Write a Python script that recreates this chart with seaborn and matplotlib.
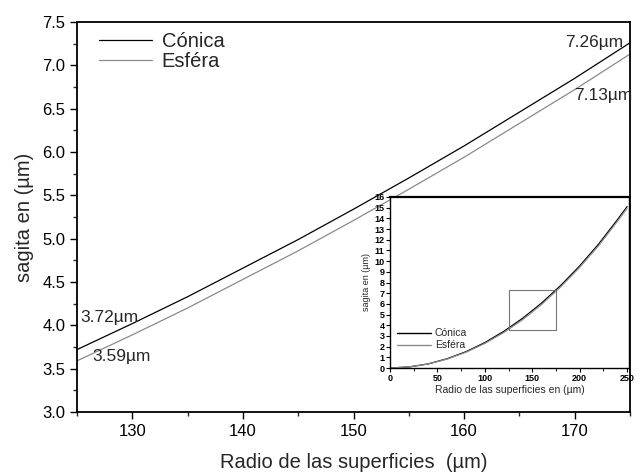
import matplotlib
matplotlib.use("Agg")
import matplotlib.pyplot as plt
from matplotlib.ticker import MultipleLocator
import seaborn as sns
import pandas as pd

# ---- data ----
radio = [125, 130, 135, 140, 145, 150, 155, 160, 165, 170, 175]
conica = [3.72, 4.02, 4.33, 4.66, 4.99, 5.34, 5.70, 6.07, 6.46, 6.85, 7.26]
esfera = [3.59, 3.89, 4.20, 4.53, 4.86, 5.21, 5.57, 5.94, 6.33, 6.72, 7.13]

radio_full = [0, 20, 40, 60, 80, 100, 120, 140, 160, 180, 200, 220, 240, 250]
conica_full = [0.0, 0.10, 0.38, 0.86, 1.52, 2.38, 3.43, 4.66, 6.09, 7.72, 9.55, 11.60, 13.90, 15.10]
esfera_full = [0.0, 0.10, 0.37, 0.83, 1.47, 2.30, 3.32, 4.53, 5.96, 7.59, 9.42, 11.45, 13.75, 14.95]

series_names = ["Cónica", "Esféra"]
labels_end = ["7.26µm", "7.13µm"]
labels_start = ["3.72µm", "3.59µm"]

sns.set_theme(style="ticks")
plt.rcParams["font.family"] = ["Liberation Sans", "DejaVu Sans"]

df = pd.DataFrame({
    "radio": radio * 2,
    "sagita": conica + esfera,
    "serie": [series_names[0]] * len(radio) + [series_names[1]] * len(radio),
})
df_full = pd.DataFrame({
    "radio": radio_full * 2,
    "sagita": conica_full + esfera_full,
    "serie": [series_names[0]] * len(radio_full) + [series_names[1]] * len(radio_full),
})
palette = {series_names[0]: "black", series_names[1]: "#8a8a8a"}

fig = plt.figure(figsize=(6.44, 4.74), dpi=100)
ax = fig.add_axes([77 / 644, 1 - 412 / 474, (630 - 77) / 644, (412 - 22) / 474])

sns.lineplot(data=df, x="radio", y="sagita", hue="serie", palette=palette,
             linewidth=0.9, ax=ax, legend=True)
ax.set_xlim(125, 175)
ax.set_ylim(3.0, 7.5)
ax.xaxis.set_major_locator(MultipleLocator(10))
ax.xaxis.set_minor_locator(MultipleLocator(5))
ax.yaxis.set_major_locator(MultipleLocator(0.5))
ax.yaxis.set_minor_locator(MultipleLocator(0.25))
ax.tick_params(axis="both", which="major", labelsize=12, direction="out",
               length=5, width=1, colors="black")
ax.tick_params(axis="both", which="minor", direction="out", length=3, width=1)
ax.set_xlabel("Radio de las superficies  (µm)", fontsize=14.5, labelpad=10)
ax.set_ylabel("sagita en (µm)", fontsize=14.5, labelpad=6)
for s in ax.spines.values():
    s.set_linewidth(1.3)
    s.set_color("black")

leg = ax.legend(loc="upper left", frameon=False, fontsize=14.5, handlelength=2.6,
                handletextpad=0.5, borderaxespad=0.3, labelspacing=0.05,
                bbox_to_anchor=(0.015, 1.01))
for h in leg.get_lines():
    h.set_linewidth(0.9)

# annotations
ax.annotate(labels_end[0], xy=(radio[-1], conica[-1]), xytext=(-7, 0),
            textcoords="offset pixels", ha="right", va="center", fontsize=12.5)
ax.annotate(labels_end[1], xy=(radio[-1], esfera[-1]), xytext=(2, -41),
            textcoords="offset pixels", ha="right", va="center", fontsize=12.5)
ax.annotate(labels_start[0], xy=(radio[0], conica[0]), xytext=(3, 32),
            textcoords="offset pixels", ha="left", va="center", fontsize=12.5)
ax.annotate(labels_start[1], xy=(radio[0], esfera[0]), xytext=(15, 4),
            textcoords="offset pixels", ha="left", va="center", fontsize=12.5)

# inset
axin = fig.add_axes([390 / 644, 1 - 368 / 474, (629 - 390) / 644, (368 - 197) / 474])
axin.set_facecolor("white")
sns.lineplot(data=df_full, x="radio", y="sagita", hue="serie", palette=palette,
             linewidth=0.9, ax=axin, legend=True)
axin.set_xlim(0, 252)
axin.set_ylim(0, 16)
axin.xaxis.set_major_locator(MultipleLocator(50))
axin.xaxis.set_minor_locator(MultipleLocator(25))
axin.yaxis.set_major_locator(MultipleLocator(1))
axin.tick_params(axis="both", which="major", labelsize=6.5, direction="out",
                 length=3, width=0.8, pad=1, colors="black")
axin.tick_params(axis="both", which="minor", direction="out", length=2, width=0.8)
for lbl in axin.get_xticklabels() + axin.get_yticklabels():
    lbl.set_fontweight("bold")
axin.set_xlabel("Radio de las superficies en (µm)", fontsize=7.5, labelpad=2)
axin.set_ylabel("sagita en (µm)", fontsize=6.5, labelpad=2)
for s in axin.spines.values():
    s.set_linewidth(1.0)
    s.set_color("black")
axin.spines["top"].set_linewidth(1.6)

# zoom box
axin.plot([radio[0], radio[-1], radio[-1], radio[0], radio[0]],
          [esfera[0], esfera[0], conica[-1], conica[-1], esfera[0]],
          color="#777777", linewidth=0.8)

legin = axin.legend(loc="lower left", frameon=False, fontsize=7.5, handlelength=3.2,
                    handletextpad=0.4, borderaxespad=0.3, labelspacing=0.2,
                    bbox_to_anchor=(0.0, 0.06))
for h in legin.get_lines():
    h.set_linewidth(1.0)

fig.savefig("out.png", dpi=100)
